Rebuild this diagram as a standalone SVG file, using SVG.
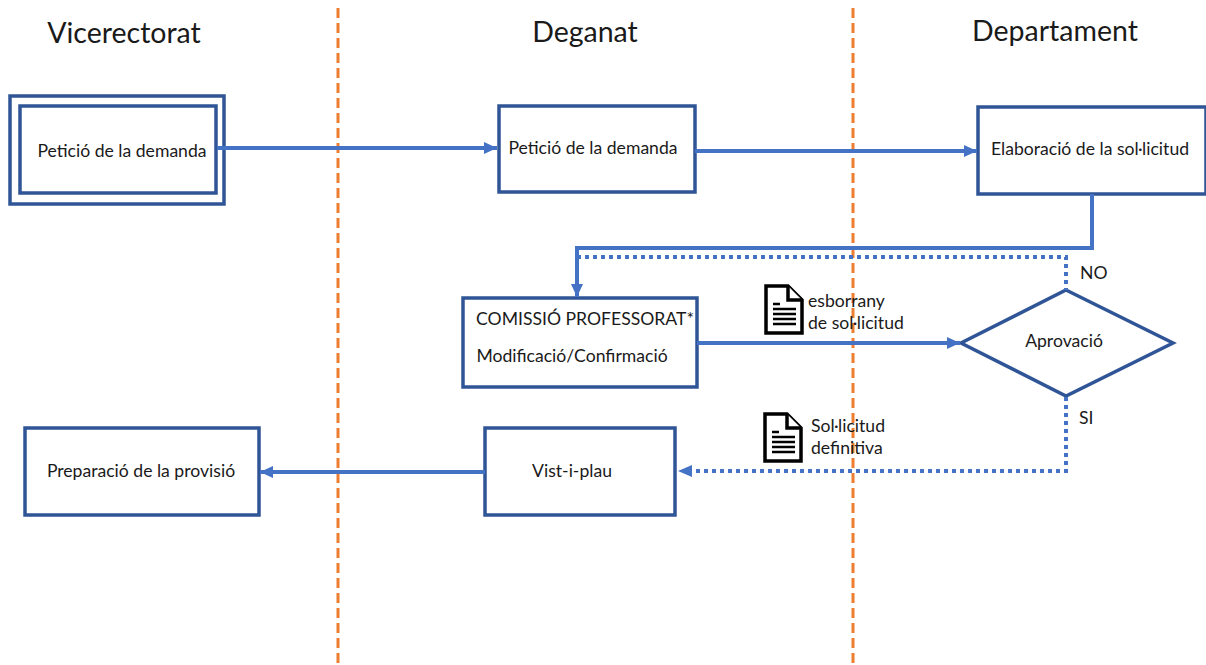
<svg xmlns="http://www.w3.org/2000/svg" width="1206" height="665" viewBox="0 0 1206 665">
<style>
text{font-family:Lato,"Liberation Sans",sans-serif;fill:#1a1a1a;font-size:17.6px}
.t{text-anchor:middle}
.h{font-size:28.5px;text-anchor:middle}
.box{fill:#fff;stroke:#2f5597;stroke-width:3.5}
.lane{fill:none;stroke:#ed7d31;stroke-width:3;stroke-dasharray:10 5}
.c{fill:none;stroke:#4472c4;stroke-width:4}
.d{fill:none;stroke:#4472c4;stroke-width:4;stroke-dasharray:4 4}
.doc{fill:#fff;stroke:#000;stroke-width:3.5}
.ln{stroke:#000;stroke-width:2.4;fill:none}
</style>
<defs>
<marker id="a" markerUnits="userSpaceOnUse" markerWidth="14" markerHeight="12" refX="13" refY="6" orient="auto"><path d="M0 0L13 6L0 12Z" fill="#4472c4"/></marker>
<g id="docicon"><path class="doc" d="M1 1H23L37 15V48H1Z"/><path class="doc" d="M23 1V15H37" fill="none"/><path class="ln" d="M8 19H15M8 24H31M8 29H31M8 34H31M8 39H31"/></g>
</defs>
<rect width="1206" height="665" fill="#fff"/>
<g id="lanes"><path class="lane" d="M338 8V665"/><path class="lane" d="M853 8V665"/></g>
<g id="headers"><text class="h" x="124" y="43">Vicerectorat</text><text class="h" x="585" y="42">Deganat</text><text class="h" x="1055" y="41">Departament</text></g>
<g id="n1"><rect class="box" x="10" y="96" width="214" height="108"/><rect class="box" x="20" y="106" width="196" height="87"/><text class="t" x="122" y="157">Petició de la demanda</text></g>
<g id="n2"><rect class="box" x="499" y="106" width="196" height="86"/><text class="t" x="593" y="154">Petició de la demanda</text></g>
<g id="n3"><rect class="box" x="978" y="107" width="228" height="87"/><text class="t" x="1090" y="155">Elaboració de la sol·licitud</text></g>
<g id="n4"><rect class="box" x="463" y="298" width="234" height="89"/><text class="t" x="585" y="325">COMISSIÓ PROFESSORAT*</text><text class="t" x="572" y="362">Modificació/Confirmació</text></g>
<g id="n5"><path d="M1066 290L1173 343L1066 396L961 343Z" fill="#fff" stroke="#2f5597" stroke-width="3.5"/><text class="t" x="1064" y="347">Aprovació</text></g>
<g id="n6"><rect class="box" x="485" y="428" width="190" height="87"/><text class="t" x="572" y="477">Vist-i-plau</text></g>
<g id="n7"><rect class="box" x="25" y="428" width="234" height="87"/><text class="t" x="141" y="477">Preparació de la provisió</text></g>
<g id="connectors">
<path class="c" d="M217 148H497" marker-end="url(#a)"/>
<path class="c" d="M695 151H977" marker-end="url(#a)"/>
<path class="c" d="M1092 194V248H577V297" marker-end="url(#a)"/>
<path class="d" d="M577 257H1066V290"/>
<path class="c" d="M697 343H960" marker-end="url(#a)"/>
<path class="d" d="M1066 397V471H693"/>
<path d="M678 471L692 465V477Z" fill="#4472c4"/>
<path class="c" d="M485 472H260" marker-end="url(#a)"/>
</g>
<g id="labels">
<use href="#docicon" x="765" y="285"/>
<text x="808" y="307">esborrany</text><text x="808" y="329">de sol·licitud</text>
<use href="#docicon" x="764" y="413"/>
<text x="811" y="432">Sol·licitud</text><text x="811" y="454">definitiva</text>
<text x="1080" y="279">NO</text><text x="1079" y="424">SI</text>
</g>
</svg>
